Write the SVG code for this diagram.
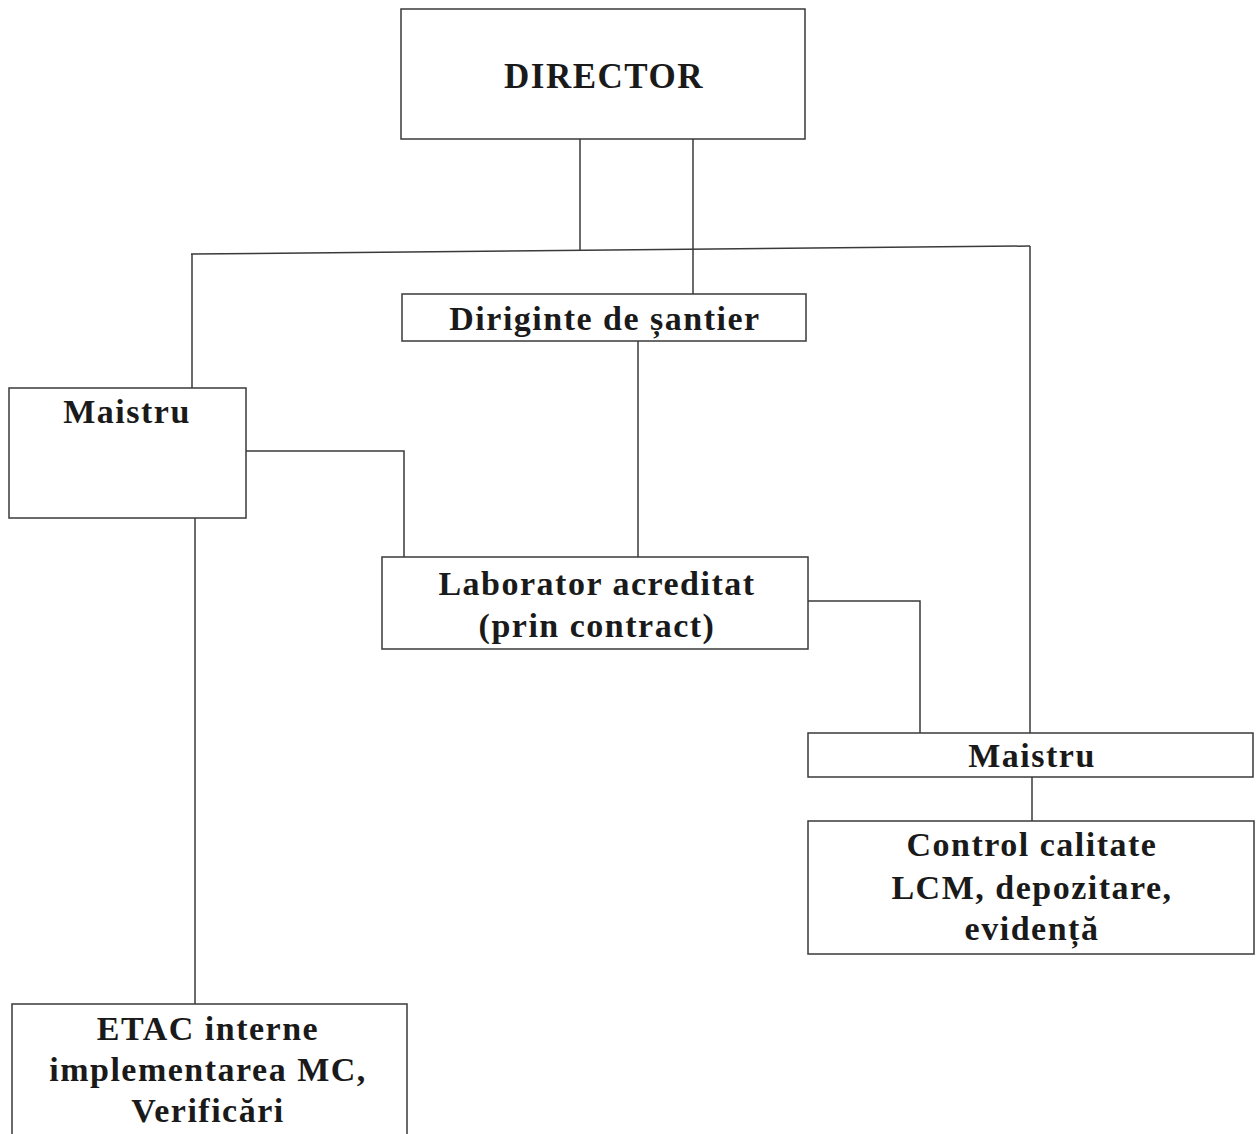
<svg xmlns="http://www.w3.org/2000/svg" width="1256" height="1134" viewBox="0 0 1256 1134">
<style>
.box{fill:#fff;stroke:#3a3a3a;stroke-width:1.5}
.ln{fill:none;stroke:#3a3a3a;stroke-width:1.5}
.t{font-family:"Liberation Serif","Times New Roman",serif;font-weight:bold;font-size:34px;letter-spacing:1.5px;fill:#1a1a1a;text-anchor:middle}
</style>
<rect width="1256" height="1134" fill="#fff"/>
<g id="connectors">
<path class="ln" d="M580,139 V251"/>
<path class="ln" d="M693,139 V294"/>
<path class="ln" d="M191,254 L1030,246"/>
<path class="ln" d="M192,254 V388"/>
<path class="ln" d="M1030,246 V733"/>
<path class="ln" d="M638,341 V557"/>
<path class="ln" d="M246,451 H404 V557"/>
<path class="ln" d="M808,601 H920 V733"/>
<path class="ln" d="M1032,777 V821"/>
<path class="ln" d="M195,518 V1004"/>
</g>
<g id="director">
<rect class="box" x="401" y="9" width="404" height="130"/>
<text class="t" x="604" y="88" style="font-size:35px">DIRECTOR</text>
</g>
<g id="diriginte">
<rect class="box" x="402" y="294" width="404" height="47"/>
<text class="t" x="605" y="330">Diriginte de șantier</text>
</g>
<g id="maistru1">
<rect class="box" x="9" y="388" width="237" height="130"/>
<text class="t" x="127" y="423">Maistru</text>
</g>
<g id="laborator">
<rect class="box" x="382" y="557" width="426" height="92"/>
<text class="t" x="597" y="595">Laborator acreditat</text>
<text class="t" x="597" y="637">(prin contract)</text>
</g>
<g id="maistru2">
<rect class="box" x="808" y="733" width="445" height="44"/>
<text class="t" x="1032" y="767">Maistru</text>
</g>
<g id="control">
<rect class="box" x="808" y="821" width="446" height="133"/>
<text class="t" x="1032" y="856">Control calitate</text>
<text class="t" x="1032" y="899">LCM, depozitare,</text>
<text class="t" x="1032" y="940">evidență</text>
</g>
<g id="etac">
<rect class="box" x="12" y="1004" width="395" height="140"/>
<text class="t" x="208" y="1040">ETAC interne</text>
<text class="t" x="208" y="1081">implementarea MC,</text>
<text class="t" x="208" y="1122">Verificări</text>
</g>
</svg>
